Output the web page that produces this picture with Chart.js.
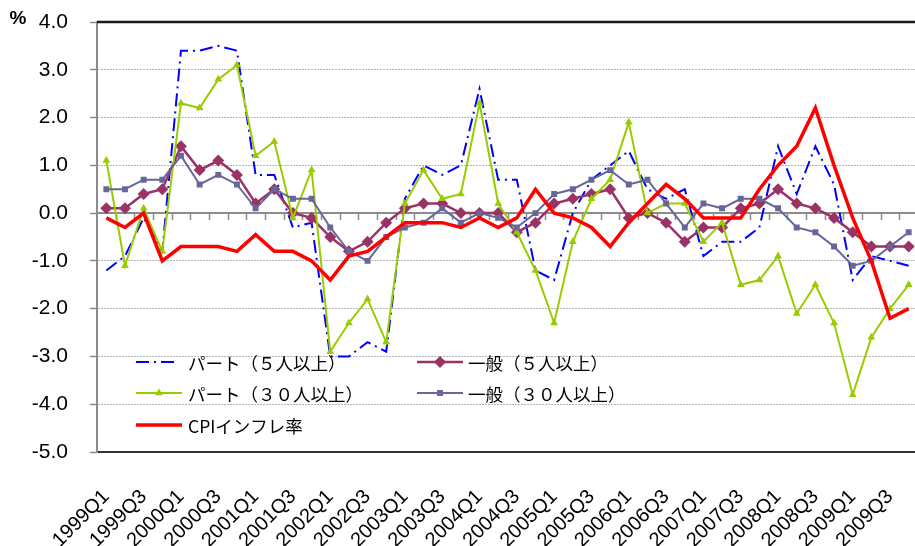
<!DOCTYPE html>
<html>
<head>
<meta charset="utf-8">
<script src="https://cdn.jsdelivr.net/npm/chart.js"></script>
<style>
  html, body { margin: 0; padding: 0; background: #fff; overflow: hidden; }
  #wrap { width: 924px; height: 546px; }
</style>
</head>
<body>
<div id="wrap"><canvas id="myChart" width="924" height="546"></canvas></div>
<script>
// 四半期（カテゴリ）
const quarters = [
    '1999Q1', '1999Q2', '1999Q3', '1999Q4', '2000Q1', '2000Q2', '2000Q3', '2000Q4',
    '2001Q1', '2001Q2', '2001Q3', '2001Q4', '2002Q1', '2002Q2', '2002Q3', '2002Q4',
    '2003Q1', '2003Q2', '2003Q3', '2003Q4', '2004Q1', '2004Q2', '2004Q3', '2004Q4',
    '2005Q1', '2005Q2', '2005Q3', '2005Q4', '2006Q1', '2006Q2', '2006Q3', '2006Q4',
    '2007Q1', '2007Q2', '2007Q3', '2007Q4', '2008Q1', '2008Q2', '2008Q3', '2008Q4',
    '2009Q1', '2009Q2', '2009Q3', '2009Q4'
];

// 系列データ（前年同期比、%）
const part5 = [
    -1.2, -0.9, -0.1, -0.8, 3.4, 3.4, 3.5, 3.4, 0.8, 0.8, -0.3, -0.2,
    -3.0, -3.0, -2.7, -2.9, 0.3, 1.0, 0.8, 1.0, 2.6, 0.7, 0.7, -1.2,
    -1.4, 0.0, 0.7, 1.0, 1.3, 0.5, 0.3, 0.5, -0.9, -0.6, -0.6, -0.3,
    1.4, 0.4, 1.4, 0.6, -1.4, -0.9, -1.0, -1.1
];
const ippan5 = [
    0.1, 0.1, 0.4, 0.5, 1.4, 0.9, 1.1, 0.8, 0.2, 0.5, 0.0, -0.1,
    -0.5, -0.8, -0.6, -0.2, 0.1, 0.2, 0.2, 0.0, 0.0, 0.0, -0.4, -0.2,
    0.2, 0.3, 0.4, 0.5, -0.1, 0.0, -0.2, -0.6, -0.3, -0.3, 0.1, 0.2,
    0.5, 0.2, 0.1, -0.1, -0.4, -0.7, -0.7, -0.7
];
const part30 = [
    1.1, -1.1, 0.1, -0.8, 2.3, 2.2, 2.8, 3.1, 1.2, 1.5, -0.1, 0.9,
    -2.9, -2.3, -1.8, -2.7, 0.2, 0.9, 0.3, 0.4, 2.3, 0.2, -0.4, -1.2,
    -2.3, -0.6, 0.3, 0.7, 1.9, 0.0, 0.2, 0.2, -0.6, -0.2, -1.5, -1.4,
    -0.9, -2.1, -1.5, -2.3, -3.8, -2.6, -2.0, -1.5
];
const ippan30 = [
    0.5, 0.5, 0.7, 0.7, 1.2, 0.6, 0.8, 0.6, 0.1, 0.5, 0.3, 0.3,
    -0.3, -0.8, -1.0, -0.5, -0.3, -0.2, 0.1, -0.2, 0.0, -0.1, -0.3, 0.0,
    0.4, 0.5, 0.7, 0.9, 0.6, 0.7, 0.2, -0.3, 0.2, 0.1, 0.3, 0.3,
    0.1, -0.3, -0.4, -0.7, -1.1, -1.0, -0.7, -0.4
];
const cpi = [
    -0.1, -0.3, 0.0, -1.0, -0.7, -0.7, -0.7, -0.8, -0.45, -0.8, -0.8, -1.0,
    -1.4, -0.9, -0.8, -0.5, -0.2, -0.2, -0.2, -0.3, -0.1, -0.3, -0.1, 0.5,
    0.0, -0.1, -0.3, -0.7, -0.2, 0.2, 0.6, 0.3, -0.1, -0.1, -0.1, 0.5,
    1.0, 1.4, 2.2, 1.0, -0.1, -1.0, -2.2, -2.0
];
const seriesNames = ['パート（５人以上）', '一般（５人以上）', 'パート（３０人以上）', '一般（３０人以上）', 'CPIインフレ率'];
const yTicks = [4, 3, 2, 1, 0, -1, -2, -3, -4, -5];

// マーカー描画（凡例用）
function drawMarker(ctx, style, r, color, x, y) {
    ctx.fillStyle = color;
    ctx.beginPath();
    if (style === 'rectRot') {
        ctx.moveTo(x, y - r); ctx.lineTo(x + r, y); ctx.lineTo(x, y + r); ctx.lineTo(x - r, y);
    } else if (style === 'rect') {
        const s = r * Math.SQRT1_2;
        ctx.rect(x - s, y - s, 2 * s, 2 * s);
    } else if (style === 'triangle') {
        ctx.moveTo(x, y - r);
        ctx.lineTo(x + r * 0.866, y + r * 0.5);
        ctx.lineTo(x - r * 0.866, y + r * 0.5);
    }
    ctx.closePath();
    ctx.fill();
}

// 0の軸線、上の枠線、「%」
const axisPlugin = {
    id: 'axisPlugin',
    beforeDatasetsDraw(chart) {
        const ctx = chart.ctx;
        const area = chart.chartArea;
        const y0 = chart.scales.y.getPixelForValue(0);
        const step = area.width / quarters.length;
        ctx.save();
        ctx.strokeStyle = '#8c8c8c';
        ctx.lineWidth = 2;
        ctx.beginPath();
        ctx.moveTo(area.left, y0);
        ctx.lineTo(area.right, y0);
        ctx.stroke();
        ctx.lineWidth = 1.5;
        ctx.beginPath();
        for (let i = 1; i <= quarters.length; i++) {
            const px = Math.round(area.left + i * step) + 0.5;
            ctx.moveTo(px, y0);
            ctx.lineTo(px, y0 + 7);
        }
        ctx.stroke();
        ctx.strokeStyle = '#1a1a1a';
        ctx.lineWidth = 2.5;
        ctx.beginPath();
        ctx.moveTo(area.left, area.top);
        ctx.lineTo(area.right, area.top);
        ctx.stroke();
        ctx.fillStyle = '#000';
        ctx.font = 'bold 19px "Liberation Sans", Arial, sans-serif';
        ctx.textAlign = 'center';
        ctx.textBaseline = 'middle';
        ctx.fillText('%', 18, 19);
        ctx.restore();
    }
};

// 凡例（グラフ内左下）
const legendPlugin = {
    id: 'legendPlugin',
    afterDatasetsDraw(chart) {
        const ctx = chart.ctx;
        ctx.save();
        chart.data.datasets.forEach(function (ds, i) {
            const col = i % 2;
            const row = Math.floor(i / 2);
            const x0 = col ? 417 : 136;
            const y = [362, 393, 425][row];
            ctx.strokeStyle = ds.borderColor;
            ctx.lineWidth = ds.borderWidth;
            ctx.setLineDash(ds.borderDash || []);
            ctx.beginPath();
            ctx.moveTo(x0, y);
            ctx.lineTo(x0 + (ds.borderDash ? 42 : 46), y);
            ctx.stroke();
            ctx.setLineDash([]);
            if (ds.pointRadius > 0) {
                drawMarker(ctx, ds.pointStyle, ds.pointRadius, ds.borderColor, x0 + 23, y);
            }
            ctx.fillStyle = '#000';
            ctx.font = '17.5px "Noto Sans CJK JP", sans-serif';
            ctx.textAlign = 'left';
            ctx.textBaseline = 'middle';
            ctx.fillText(ds.label, col ? 468 : 188, y + 1);
        });
        ctx.restore();
    }
};

const dados = {
    labels: quarters,
    datasets: [
        {
            label: seriesNames[0], data: part5, order: 5,
            borderColor: '#0000FF', borderWidth: 2, borderDash: [13, 5, 2, 5],
            pointRadius: 0, fill: false
        },
        {
            label: seriesNames[1], data: ippan5, order: 4,
            borderColor: '#993366', backgroundColor: '#993366', borderWidth: 2.5,
            pointStyle: 'rectRot', pointRadius: 6, pointBorderWidth: 0, fill: false
        },
        {
            label: seriesNames[2], data: part30, order: 3,
            borderColor: '#99CC00', backgroundColor: '#99CC00', borderWidth: 2,
            pointStyle: 'triangle', pointRadius: 4.5, pointBorderWidth: 0, fill: false
        },
        {
            label: seriesNames[3], data: ippan30, order: 2,
            borderColor: '#666699', backgroundColor: '#666699', borderWidth: 2,
            pointStyle: 'rect', pointRadius: 4.2, pointBorderWidth: 0, fill: false
        },
        {
            label: seriesNames[4], data: cpi, order: 1,
            borderColor: '#FF0000', borderWidth: 3.5,
            pointRadius: 0, fill: false
        }
    ]
};

const config = {
    type: 'line',
    data: dados,
    options: {
        responsive: false,
        animation: false,
        layout: { padding: { top: 22, right: 1, left: 0, bottom: 0 } },
        plugins: {
            legend: { display: false },
            tooltip: { enabled: false }
        },
        scales: {
            x: {
                offset: true,
                grid: { display: false, drawTicks: false },
                border: { display: true, color: '#333333', width: 2 },
                ticks: {
                    autoSkip: false,
                    minRotation: 45,
                    maxRotation: 45,
                    padding: 33,
                    color: '#000',
                    font: { family: '"Liberation Sans", Arial, sans-serif', size: 20 },
                    callback: function (v, i) { return i % 2 === 0 ? quarters[i] : ''; }
                },
                afterFit: function (s) {
                    s.height = 94;
                    s.paddingLeft = 0;
                    s.paddingRight = 0;
                }
            },
            y: {
                min: yTicks[yTicks.length - 1],
                max: yTicks[0],
                afterBuildTicks: function (s) { s.ticks = yTicks.map(v => ({ value: v })); },
                ticks: {
                    padding: 22,
                    color: '#000',
                    font: { family: '"Liberation Sans", Arial, sans-serif', size: 21 },
                    callback: function (v) { return Number(v).toFixed(1); }
                },
                grid: {
                    color: function (c) {
                        const v = c.tick ? c.tick.value : null;
                        return (v === 0 || v === 4 || v === -5) ? 'rgba(0,0,0,0)' : '#b4b4b4';
                    },
                    lineWidth: 1,
                    tickColor: '#8c8c8c',
                    tickLength: 7,
                    tickWidth: 1.5
                },
                border: { display: true, color: '#8c8c8c', width: 2, dash: [2, 1] },
                afterFit: function (s) {
                    s.width = 97;
                    s.paddingTop = 0;
                    s.paddingBottom = 0;
                }
            }
        }
    },
    plugins: [axisPlugin, legendPlugin]
};

new Chart(document.getElementById('myChart').getContext('2d'), config);
</script>
</body>
</html>
